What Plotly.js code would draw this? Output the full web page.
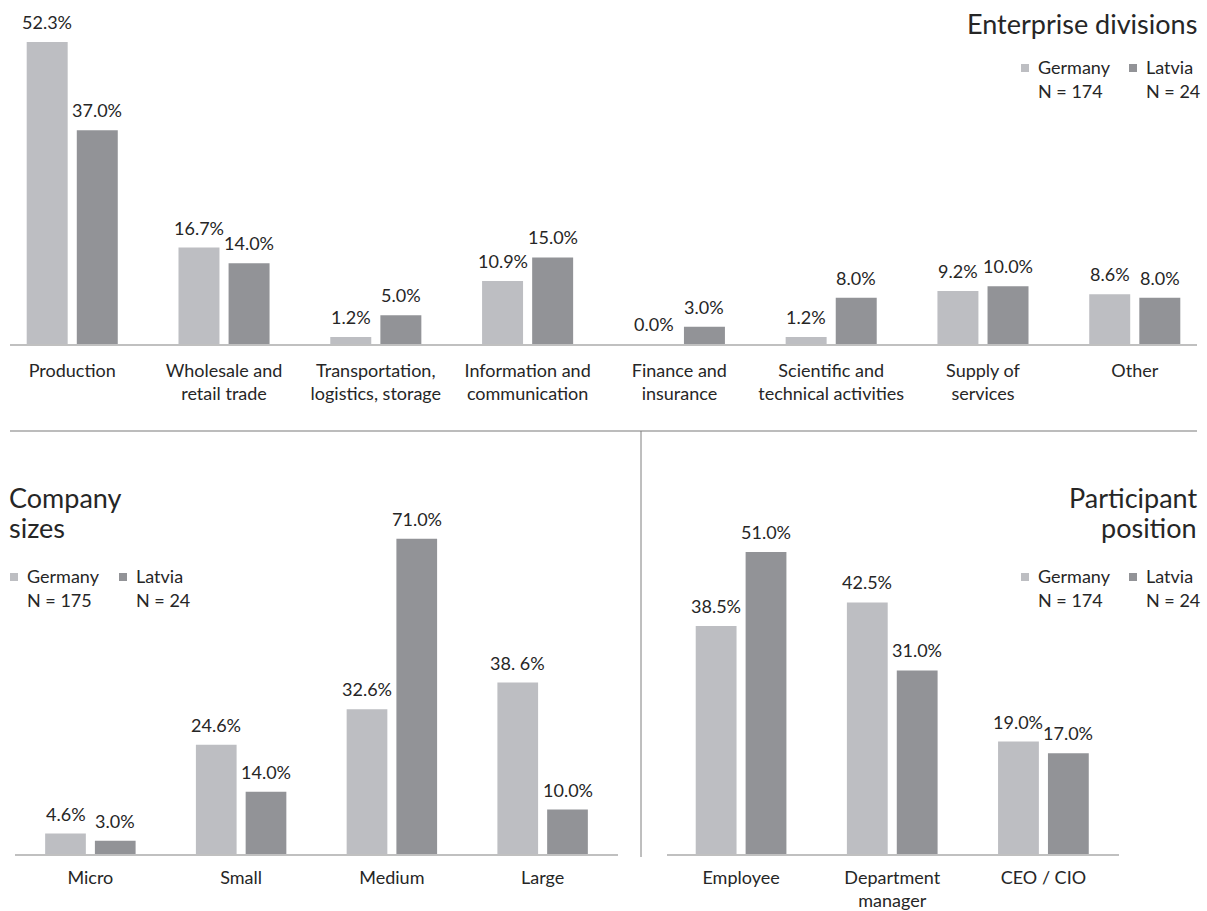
<!DOCTYPE html>
<html>
<head>
<meta charset="utf-8">
<script src="https://cdn.plot.ly/plotly-3.0.1.min.js"></script>
<style>
html,body{margin:0;padding:0;background:#fff;}
#chart{width:1207px;height:911px;}
</style>
</head>
<body>
<div id="chart"></div>
<script>
// ---------- DATA ----------
const divisionCategories = ["Production", "Wholesale and<br>retail trade", "Transportation,<br>logistics, storage", "Information and<br>communication", "Finance and<br>insurance", "Scientific and<br>technical activities", "Supply of<br>services", "Other"];
const divisionsGermany = [52.3, 16.7, 1.2, 10.9, 0.0, 1.2, 9.2, 8.6];
const divisionsLatvia  = [37.0, 14.0, 5.0, 15.0, 3.0, 8.0, 10.0, 8.0];

const sizeCategories = ["Micro", "Small", "Medium", "Large"];
const sizesGermany = [4.6, 24.6, 32.6, 38.6];
const sizesLatvia  = [3.0, 14.0, 71.0, 10.0];
const sizesGermanyLabels = ["4.6%", "24.6%", "32.6%", "38. 6%"];

const positionCategories = ["Employee", "Department<br>manager", "CEO / CIO"];
const positionsGermany = [38.5, 42.5, 19.0];
const positionsLatvia  = [51.0, 31.0, 17.0];

const seriesNames = ["Germany", "Latvia"];
const legendDivisions = ["N = 174", "N = 24"];
const legendSizes = ["N = 175", "N = 24"];
const legendPositions = ["N = 174", "N = 24"];

// ---------- STYLE ----------
const W = 1207, H = 911;
const FONT = "Lato, 'Open Sans', sans-serif";
const TXT = "#262626";
const C_DE = "#bdbec2";
const C_LV = "#929397";
const BAR_W = 0.27, OFF_DE = -0.30, OFF_LV = 0.03;
const px = x => x / W;
const py = y => 1 - y / H;

function fmt(v){ return v.toFixed(1) + "%"; }

const traces = [];
const annotations = [];
const shapes = [];

function addPanel(xa, ya, cats, de, lv, deLabels, lvLabels){
  const xs = cats.map((c, i) => i);
  traces.push({type:"bar", x: cats, y: de, name: seriesNames[0], xaxis: xa, yaxis: ya,
    width: BAR_W, offset: OFF_DE, marker:{color:C_DE}, showlegend:false, hoverinfo:"none"});
  traces.push({type:"bar", x: cats, y: lv, name: seriesNames[1], xaxis: xa, yaxis: ya,
    width: BAR_W, offset: OFF_LV, marker:{color:C_LV}, showlegend:false, hoverinfo:"none"});
  xs.forEach(i => {
    annotations.push({xref: xa, yref: ya, x: i + OFF_DE + BAR_W/2, y: de[i], text: deLabels[i],
      showarrow:false, yanchor:"bottom", xanchor:"center", yshift: 7,
      font:{family:FONT, size:18, color:TXT}});
    annotations.push({xref: xa, yref: ya, x: i + OFF_LV + BAR_W/2, y: lv[i], text: lvLabels[i],
      showarrow:false, yanchor:"bottom", xanchor:"center", yshift: 7,
      font:{family:FONT, size:18, color:TXT}});
  });
}

addPanel("x", "y", divisionCategories, divisionsGermany, divisionsLatvia,
  divisionsGermany.map(fmt), divisionsLatvia.map(fmt));
addPanel("x2", "y2", sizeCategories, sizesGermany, sizesLatvia,
  sizesGermanyLabels, sizesLatvia.map(fmt));
addPanel("x3", "y3", positionCategories, positionsGermany, positionsLatvia,
  positionsGermany.map(fmt), positionsLatvia.map(fmt));

// titles
function txt(x, y, s, size, anchor){
  annotations.push({xref:"paper", yref:"paper", x: px(x), y: py(y), text: s, showarrow:false,
    xanchor: anchor, yanchor:"middle", align: anchor, font:{family:FONT, size:size, color:TXT}});
}
txt(1199, 24, "Enterprise divisions", 27, "right");
txt(7, 497, "Company", 27, "left");
txt(7, 527, "sizes", 27, "left");
txt(1199, 497, "Participant", 27, "right");
txt(1199, 527, "position", 27, "right");

// legends
function legend(xDE, xLV, yTop, nLabels){
  const sq = 8;
  const pos = [[xDE, C_DE], [xLV, C_LV]];
  pos.forEach((p, k) => {
    shapes.push({type:"rect", xref:"paper", yref:"paper", x0: px(p[0]), x1: px(p[0]+sq),
      y0: py(yTop + 4), y1: py(yTop - 4), fillcolor: p[1], line:{width:0}});
    txt(p[0] + 15, yTop - 1, seriesNames[k], 18, "left");
    txt(p[0] + 15, yTop + 23, nLabels[k], 18, "left");
  });
}
legend(1021, 1129, 68, legendDivisions);
legend(10, 119, 577, legendSizes);
legend(1021, 1129, 577, legendPositions);

// separators
shapes.push({type:"line", xref:"paper", yref:"paper", x0: px(10), x1: px(1197), y0: py(431), y1: py(431),
  line:{color:"#a6a6a6", width:1.5}});
shapes.push({type:"line", xref:"paper", yref:"paper", x0: px(641), x1: px(641), y0: py(431), y1: py(857),
  line:{color:"#7f7f7f", width:1}});

const xCommon = {type:"category", showgrid:false, zeroline:false, showline:true, linecolor:"#c0c0c0",
  linewidth:2, ticks:"", tickfont:{family:FONT, size:18, color:TXT}, fixedrange:true};
const yCommon = {showgrid:false, zeroline:false, showline:false, showticklabels:false, ticks:"", fixedrange:true};

const layout = {
  width: W, height: H,
  margin:{l:0, r:0, t:0, b:0},
  paper_bgcolor:"#ffffff", plot_bgcolor:"rgba(0,0,0,0)",
  barmode:"overlay",
  showlegend:false,
  font:{family:FONT, color:TXT},
  xaxis: Object.assign({}, xCommon, {domain:[px(10), px(1197)], range:[-0.41, 7.41], anchor:"y", ticklabelstandoff: 9}),
  yaxis: Object.assign({}, yCommon, {domain:[py(344), py(10)], range:[0, 334/5.774], anchor:"x"}),
  xaxis2: Object.assign({}, xCommon, {domain:[px(15), px(618)], range:[-0.5, 3.5], anchor:"y2", ticklabelstandoff: 6}),
  yaxis2: Object.assign({}, yCommon, {domain:[py(854), py(460)], range:[0, 394/4.44], anchor:"x2"}),
  xaxis3: Object.assign({}, xCommon, {domain:[px(667), px(1119)], range:[-0.49, 2.5], anchor:"y3", ticklabelstandoff: 6}),
  yaxis3: Object.assign({}, yCommon, {domain:[py(854), py(460)], range:[0, 394/5.92], anchor:"x3"}),
  annotations: annotations,
  shapes: shapes
};

Plotly.newPlot("chart", traces, layout, {staticPlot:true, displayModeBar:false});
</script>
</body>
</html>
